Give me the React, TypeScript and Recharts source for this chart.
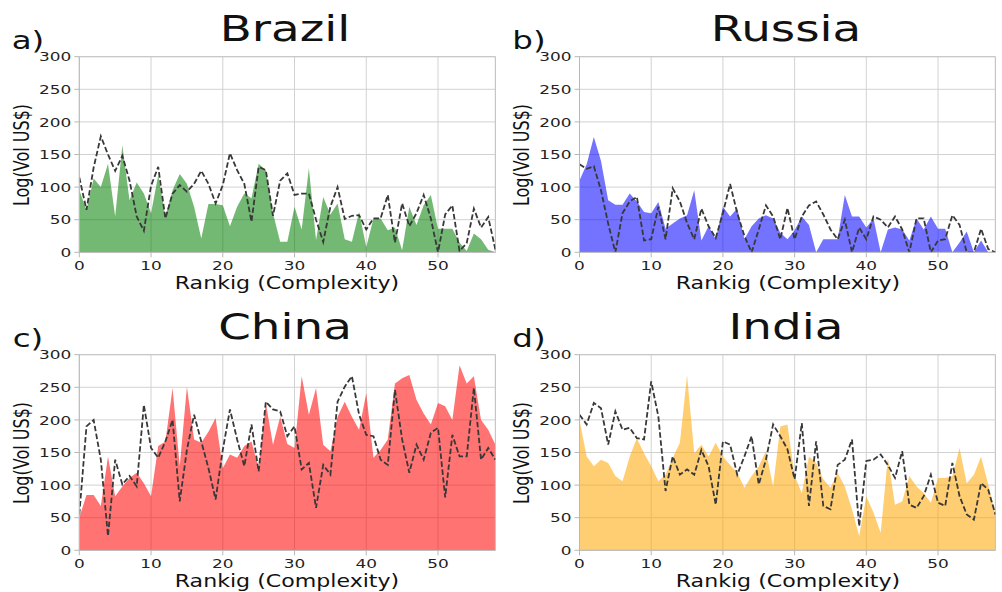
import React from "react"
import { ComposedChart, Area, Line, XAxis, YAxis, CartesianGrid, ReferenceLine } from "recharts"

const rank = [
  0, 1, 2, 3, 4, 5, 6, 7, 8, 9, 10, 11, 12, 13, 14, 15, 16, 17, 18, 19, 20, 21, 22, 23, 24, 25, 26, 27, 28, 29,
  30, 31, 32, 33, 34, 35, 36, 37, 38, 39, 40, 41, 42, 43, 44, 45, 46, 47, 48, 49, 50, 51, 52, 53, 54, 55, 56, 57, 58,
]

const brazilArea = [95, 65, 113, 100, 136, 55, 164, 80, 107, 90, 60, 118, 55, 95, 120, 105, 70, 21, 74, 74, 72, 40, 70, 90, 83, 136, 126, 60, 16, 16, 70, 35, 129, 19, 85, 58, 75, 20, 16, 62, 8, 52, 52, 34, 38, 3, 70, 42, 72, 88, 36, 36, 36, 15, 2, 29, 20, 4, 0]
const brazilLine = [115, 65, 130, 178, 150, 125, 148, 110, 55, 33, 102, 131, 52, 90, 103, 93, 105, 125, 105, 75, 103, 152, 126, 105, 47, 131, 126, 56, 110, 121, 88, 90, 90, 50, 16, 70, 100, 51, 56, 57, 35, 52, 52, 88, 15, 75, 40, 60, 88, 52, 0, 58, 72, 2, 14, 67, 38, 54, 4]

const russiaArea = [110, 135, 177, 140, 80, 73, 73, 90, 78, 62, 60, 77, 36, 44, 52, 57, 95, 18, 40, 20, 70, 55, 67, 20, 40, 52, 57, 52, 30, 20, 34, 55, 42, 0, 20, 20, 20, 88, 55, 55, 38, 52, 0, 35, 38, 35, 18, 52, 35, 55, 36, 36, 0, 15, 32, 0, 18, 0, 0]
const russiaLine = [135, 128, 132, 95, 44, 0, 60, 78, 85, 18, 20, 70, 20, 98, 78, 45, 20, 67, 40, 22, 60, 105, 60, 25, 0, 35, 72, 55, 20, 68, 20, 55, 72, 78, 58, 35, 20, 50, 0, 38, 20, 55, 50, 38, 55, 35, 0, 52, 52, 0, 18, 20, 57, 42, 0, 0, 36, 5, 0]

const chinaArea = [50, 85, 85, 68, 144, 83, 98, 111, 119, 103, 83, 160, 167, 249, 129, 251, 170, 165, 182, 203, 126, 147, 142, 160, 167, 126, 226, 162, 205, 163, 157, 267, 208, 249, 162, 152, 205, 228, 205, 185, 241, 142, 154, 170, 256, 264, 269, 231, 210, 193, 226, 221, 200, 284, 256, 267, 200, 185, 162]
const chinaLine = [55, 190, 200, 139, 22, 139, 101, 114, 98, 223, 157, 142, 167, 200, 75, 154, 208, 167, 126, 78, 154, 216, 170, 129, 193, 121, 228, 216, 213, 175, 190, 124, 134, 65, 131, 116, 228, 251, 267, 208, 177, 175, 139, 131, 246, 170, 119, 162, 139, 180, 188, 81, 177, 144, 144, 249, 139, 157, 139]

const indiaArea = [200, 144, 129, 139, 134, 114, 106, 144, 172, 149, 129, 106, 116, 142, 165, 269, 149, 162, 144, 165, 144, 131, 119, 96, 114, 129, 152, 98, 190, 193, 114, 88, 144, 134, 109, 96, 119, 98, 63, 22, 83, 58, 27, 142, 70, 75, 114, 98, 88, 73, 111, 111, 114, 157, 103, 116, 144, 101, 55]
const indiaLine = [208, 193, 226, 218, 162, 213, 185, 188, 172, 170, 259, 205, 91, 144, 116, 124, 116, 154, 129, 70, 167, 162, 116, 144, 175, 101, 139, 193, 175, 155, 109, 195, 68, 167, 68, 63, 131, 139, 170, 37, 137, 139, 147, 131, 111, 152, 70, 65, 83, 116, 73, 68, 134, 83, 55, 47, 103, 93, 55]

const xTicks = [0, 10, 20, 30, 40, 50]
const yTicks = [0, 50, 100, 150, 200, 250, 300]

const FONT = "DejaVu Sans, Verdana, sans-serif"
const STRETCH = 1.3

const makeRows = (area: number[], line: number[]) =>
  rank.map((r, i) => ({ rank: r, area: area[i], line: line[i] }))

const YTick = (props: any) => {
  const { x, y, payload } = props
  return (
    <text
      x={0}
      y={0}
      transform={`translate(${x},${y}) scale(${STRETCH},1)`}
      textAnchor="end"
      dy="0.36em"
      fontSize={13}
      fontFamily={FONT}
      fill="#222"
    >
      {payload.value}
    </text>
  )
}

const XTick = (props: any) => {
  const { x, y, payload } = props
  return (
    <text
      x={0}
      y={0}
      transform={`translate(${x},${y}) scale(${STRETCH},1)`}
      textAnchor="middle"
      dy="0.72em"
      fontSize={13}
      fontFamily={FONT}
      fill="#222"
    >
      {payload.value}
    </text>
  )
}

function Label({ x, y, size, text, rotate }: { x: number; y: number; size: number; text: string; rotate?: boolean }) {
  return (
    <div style={{ position: "absolute", left: x, top: y, width: 0, height: 0 }}>
      <div
        style={{
          position: "absolute",
          left: 0,
          top: 0,
          whiteSpace: "nowrap",
          fontFamily: FONT,
          fontSize: size,
          lineHeight: 1,
          color: "#111",
          transform: `translate(-50%,-50%) scaleX(${STRETCH})${rotate ? " rotate(-90deg)" : ""}`,
        }}
      >
        {text}
      </div>
    </div>
  )
}

function Panel({
  left,
  top,
  letter,
  title,
  color,
  area,
  line,
  plotLeft,
}: {
  left: number
  top: number
  letter: string
  title: string
  color: string
  area: number[]
  line: number[]
  plotLeft: number
}) {
  const rows = makeRows(area, line)
  return (
    <div style={{ position: "absolute", left, top, width: 500, height: 298 }}>
      <ComposedChart
        width={500}
        height={298}
        data={rows}
        margin={{ top: 56.7, right: 4.6, bottom: 15.7, left: plotLeft - 60 }}
      >
        <CartesianGrid stroke="#d2d2d2" strokeWidth={1} />
        <XAxis
          dataKey="rank"
          type="number"
          domain={[0, 58]}
          ticks={xTicks}
          interval={0}
          height={30}
          tick={<XTick />}
          tickSize={5}
          tickMargin={3}
          stroke="#b8b8b8"
          allowDataOverflow
        />
        <YAxis
          type="number"
          domain={[0, 300]}
          ticks={yTicks}
          interval={0}
          width={60}
          tick={<YTick />}
          tickSize={5}
          tickMargin={3}
          stroke="#b8b8b8"
          allowDataOverflow
        />
        <ReferenceLine x={58} stroke="#c4c4c4" />
        <ReferenceLine y={300} stroke="#c4c4c4" />
        <Area
          type="linear"
          dataKey="area"
          stroke="none"
          fill={color}
          fillOpacity={0.55}
          dot={false}
          activeDot={false}
          isAnimationActive={false}
        />
        <Line
          type="linear"
          dataKey="line"
          stroke="#383838"
          strokeWidth={1.8}
          strokeDasharray="5.5 2.5"
          dot={false}
          activeDot={false}
          isAnimationActive={false}
        />
      </ComposedChart>
      <Label x={plotLeft + 206} y={29} size={36} text={title} />
      <Label x={plotLeft - 51} y={40} size={25} text={letter} />
      <Label x={22} y={155} size={16} text="Log(Vol US$)" rotate />
      <Label x={plotLeft + 208} y={283} size={17} text="Rankig (Complexity)" />
    </div>
  )
}

export default function App() {
  return (
    <div
      style={{
        position: "absolute",
        left: 0,
        top: 0,
        width: 1002,
        height: 592,
        background: "#fff",
        overflow: "hidden",
      }}
    >
      <Panel left={0} top={0} letter="a)" title="Brazil" color="#008000" area={brazilArea} line={brazilLine} plotLeft={79.3} />
      <Panel left={500} top={0} letter="b)" title="Russia" color="#0000ff" area={russiaArea} line={russiaLine} plotLeft={79.5} />
      <Panel left={0} top={298} letter="c)" title="China" color="#ff0000" area={chinaArea} line={chinaLine} plotLeft={79.3} />
      <Panel left={500} top={298} letter="d)" title="India" color="#ffa500" area={indiaArea} line={indiaLine} plotLeft={79.5} />
    </div>
  )
}
